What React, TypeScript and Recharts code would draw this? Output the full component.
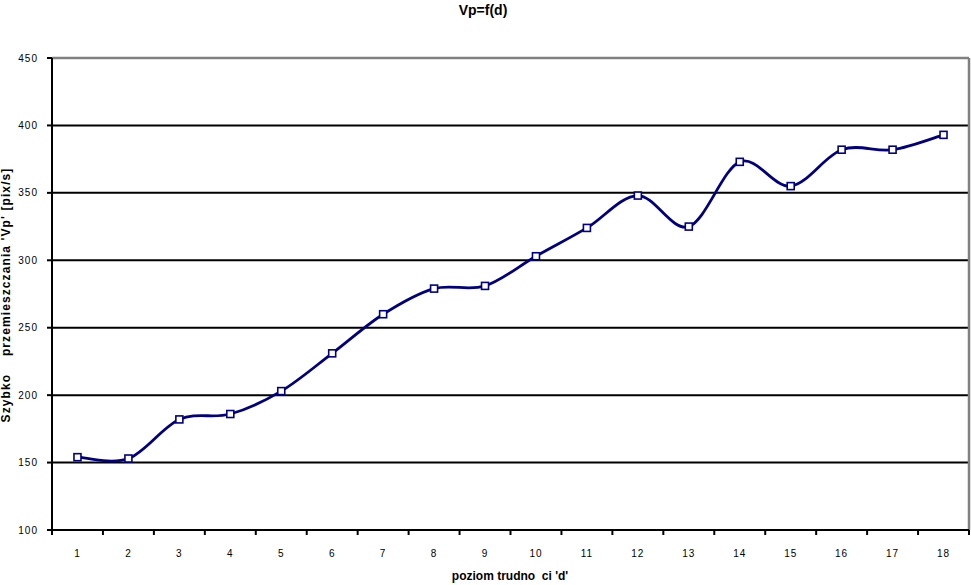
import { LineChart, Line, XAxis, YAxis, ReferenceLine } from 'recharts';

// poziom trudności i zmierzona prędkość
const levels = [1, 2, 3, 4, 5, 6, 7, 8, 9, 10, 11, 12, 13, 14, 15, 16, 17, 18];
const speeds = [154, 153, 182, 186, 203, 231, 260, 279, 281, 303, 324, 348, 325, 373, 355, 382, 382, 393];
const yTicks = [100, 150, 200, 250, 300, 350, 400, 450];

const TITLE = 'Vp=f(d)';
const X_LABEL = "poziom trudno  ci 'd'";
const Y_LABEL = "Szybko    przemieszczania 'Vp' [pix/s]";

const FONT = '"Liberation Sans", Arial, sans-serif';
const NAVY = '#000080';

// wygładzenie jak w Excelu (Catmull-Rom -> Bezier)
const excelCurve = (ctx: any) => {
  let pts: number[][] = [];
  return {
    areaStart() {},
    areaEnd() {},
    lineStart() {
      pts = [];
    },
    point(x: number, y: number) {
      pts.push([+x, +y]);
    },
    lineEnd() {
      if (!pts.length) return;
      ctx.moveTo(pts[0][0], pts[0][1]);
      for (let i = 0; i < pts.length - 1; i++) {
        const p0 = pts[i - 1] || pts[i];
        const p1 = pts[i];
        const p2 = pts[i + 1];
        const p3 = pts[i + 2] || p2;
        ctx.bezierCurveTo(
          p1[0] + (p2[0] - p0[0]) / 6,
          p1[1] + (p2[1] - p0[1]) / 6,
          p2[0] - (p3[0] - p1[0]) / 6,
          p2[1] - (p3[1] - p1[1]) / 6,
          p2[0],
          p2[1]
        );
      }
    },
  };
};

const SquareDot = (props: any) => {
  const { cx, cy, index } = props;
  if (cx == null || cy == null) return null;
  return (
    <rect
      key={`dot-${index}`}
      x={cx - 3.5}
      y={cy - 3.5}
      width={7}
      height={7}
      fill="#fff"
      stroke={NAVY}
      strokeWidth={1.6}
    />
  );
};

// etykiety pod kategoriami, kreski na granicach kategorii
const XTick = (props: any) => {
  const { x, y, payload } = props;
  const v = payload.value;
  if (Number.isInteger(v)) {
    return (
      <text x={x} y={y + 27} textAnchor="middle" fontSize={10} letterSpacing={1} fontFamily={FONT} fill="#000">
        {v}
      </text>
    );
  }
  return <line x1={x} x2={x} y1={y} y2={y + 5} stroke="#000" strokeWidth={2} />;
};

export default function App() {
  const data = levels.map((d, i) => ({ d, vp: speeds[i] }));
  const xTicks = levels.flatMap((l) => [l - 0.5, l]).concat(levels[levels.length - 1] + 0.5);
  const first = levels[0] - 0.5;
  const last = levels[levels.length - 1] + 0.5;

  return (
    <div style={{ position: 'absolute', left: 0, top: 0, width: 971, height: 585, background: '#fff' }}>
      <LineChart width={971} height={585} data={data} margin={{ top: 58, right: 2, bottom: 0, left: 0 }}>
        <XAxis
          dataKey="d"
          type="number"
          domain={[first, last]}
          ticks={xTicks}
          interval={0}
          tickSize={0}
          tickMargin={0}
          tickLine={false}
          tick={<XTick />}
          height={55}
          axisLine={{ stroke: '#000', strokeWidth: 2 }}
        />
        <YAxis
          type="number"
          domain={[yTicks[0], yTicks[yTicks.length - 1]]}
          ticks={yTicks}
          interval={0}
          width={52}
          tickSize={5}
          tickMargin={9}
          tickLine={{ stroke: '#000', strokeWidth: 2 }}
          axisLine={{ stroke: '#000', strokeWidth: 2 }}
          tick={{ fontSize: 10, fill: '#000', fontFamily: FONT, letterSpacing: 1 }}
        />
        {yTicks.slice(1, -1).map((t) => (
          <ReferenceLine key={t} y={t} stroke="#000" strokeWidth={2} ifOverflow="visible" />
        ))}
        <ReferenceLine y={yTicks[yTicks.length - 1]} stroke="#808080" strokeWidth={2.5} ifOverflow="visible" />
        <ReferenceLine x={last} stroke="#808080" strokeWidth={2.5} ifOverflow="visible" />
        <Line
          dataKey="vp"
          type={excelCurve as any}
          stroke={NAVY}
          strokeWidth={2.8}
          dot={<SquareDot />}
          activeDot={false}
          isAnimationActive={false}
        />
      </LineChart>
      <svg
        width={971}
        height={585}
        style={{ position: 'absolute', left: 0, top: 0, pointerEvents: 'none' }}
        fontFamily={FONT}
        fontWeight="bold"
      >
        <text x={483} y={10} textAnchor="middle" dominantBaseline="central" fontSize={14}>
          {TITLE}
        </text>
        <text x={510} y={576} textAnchor="middle" dominantBaseline="central" fontSize={12} style={{ whiteSpace: 'pre' }}>
          {X_LABEL}
        </text>
        <text
          x={6}
          y={295}
          transform="rotate(-90 6 295)"
          textAnchor="middle"
          dominantBaseline="central"
          fontSize={12}
          letterSpacing={1.1}
          style={{ whiteSpace: 'pre' }}
        >
          {Y_LABEL}
        </text>
      </svg>
    </div>
  );
}
